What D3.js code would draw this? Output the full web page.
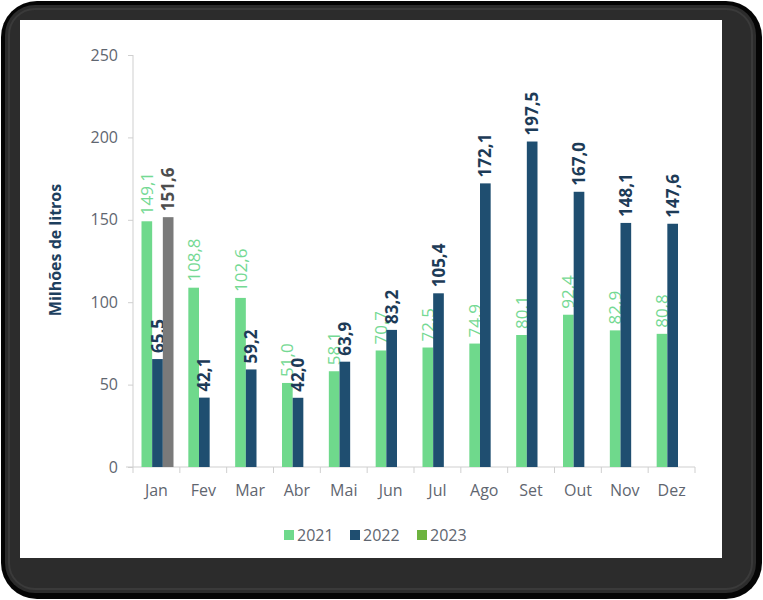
<!DOCTYPE html>
<html><head><meta charset="utf-8">
<script src="https://cdn.jsdelivr.net/npm/d3@7"></script>
<style>html,body{margin:0;padding:0;background:#fff;}svg{display:block;}</style>
</head><body>
<script>
const months = ["Jan","Fev","Mar","Abr","Mai","Jun","Jul","Ago","Set","Out","Nov","Dez"];
const years = ["2021","2022","2023"];
const values2021 = [149.1,108.8,102.6,51.0,58.1,70.7,72.5,74.9,80.1,92.4,82.9,80.8];
const values2022 = [65.5,42.1,59.2,42.0,63.9,83.2,105.4,172.1,197.5,167.0,148.1,147.6];
const values2023 = [151.6,null,null,null,null,null,null,null,null,null,null,null];
const yTicks = [0,50,100,150,200,250];
const yTitle = "Milhões de litros";

const W = 763, H = 600;
const svg = d3.select("body").append("svg").attr("width", W).attr("height", H);

// frame
svg.append("rect").attr("x",1).attr("y",1).attr("width",W-2).attr("height",H-2).attr("rx",36).attr("fill","#050505");
svg.append("rect").attr("x",5).attr("y",5).attr("width",W-12).attr("height",H-12).attr("rx",30).attr("fill","#2c2c2c");
svg.append("rect").attr("x",9).attr("y",9).attr("width",W-20).attr("height",H-20).attr("rx",26).attr("fill","none").attr("stroke","#3a3a3a").attr("stroke-width",2);
svg.append("rect").attr("x",20).attr("y",20).attr("width",702).attr("height",538).attr("fill","#ffffff");

const series = [
  {key:"2021", vals: values2021, color:"#6fd98c", label:"#74d993", weight:"500"},
  {key:"2022", vals: values2022, color:"#1f4e70", label:"#1d3b57", weight:"bold"},
  {key:"2023", vals: values2023, color:"#7a7a7a", label:"#4d4d4d", weight:"bold"}
];

const x0 = d3.scaleBand().domain(months).range([133, 695]).padding(0);
const x1 = d3.scaleBand().domain(years).range([8.5, 40.5]).padding(0);
const y = d3.scaleLinear().domain([0,250]).range([467, 55]);

const font = "'Open Sans', 'Noto Sans', sans-serif";

// y axis
const yAxis = svg.append("g").attr("transform","translate(133,0)")
  .call(d3.axisLeft(y).tickValues(yTicks).tickSize(5).tickPadding(10).tickFormat(d3.format("d")));
yAxis.select(".domain").attr("stroke","#cfcfcf").attr("d","M0,55V467");
yAxis.selectAll(".tick line").attr("stroke","#cfcfcf");
yAxis.selectAll("text").attr("fill","#5f6670").style("font-family",font).style("font-size","16px");

// x axis
const xAxis = svg.append("g").attr("transform","translate(0,467)")
  .call(d3.axisBottom(x0).tickSize(0).tickPadding(18));
xAxis.select(".domain").attr("stroke","#cfcfcf").attr("d","M126,0H695");
xAxis.selectAll("text").attr("fill","#5f6670").style("font-family",font).style("font-size","16px");
// boundary ticks
svg.append("g").selectAll("line").data(months.concat(["__end"])).join("line")
  .attr("x1",(d,i)=> i<months.length ? x0(d) : x0.range()[1])
  .attr("x2",(d,i)=> i<months.length ? x0(d) : x0.range()[1])
  .attr("y1",467).attr("y2",473).attr("stroke","#cfcfcf");

// bars
series.forEach(s => {
  const data = months.map((m,i)=>({m, v:s.vals[i]})).filter(d=>d.v!=null);
  svg.append("g").selectAll("rect").data(data).join("rect")
    .attr("x", d=>x0(d.m)+x1(s.key))
    .attr("width", x1.bandwidth())
    .attr("y", d=>y(d.v))
    .attr("height", d=>y(0)-y(d.v))
    .attr("fill", s.color);
  svg.append("g").selectAll("text").data(data).join("text")
    .attr("transform", d=>`translate(${x0(d.m)+x1(s.key)+x1.bandwidth()/2},${y(d.v)-6}) rotate(-90)`)
    .attr("dy","0.36em")
    .attr("text-anchor","start")
    .attr("fill", s.label)
    .style("font-family",font).style("font-size","17px").style("font-weight",s.weight)
    .text(d=>d3.format(".1f")(d.v).replace(".",","));
});

// y title
svg.append("text").attr("transform","translate(55,250) rotate(-90)")
  .attr("text-anchor","middle").attr("dy","0.35em")
  .attr("fill","#1d3f5e").style("font-family",font).style("font-size","16px").style("font-weight","bold")
  .text(yTitle);

// legend
const legendColors = ["#6fd98c","#1f4e70","#6db33f"];
const legendX = [284, 350, 417];
const lg = svg.append("g");
years.forEach((yr,i)=>{
  lg.append("rect").attr("x",legendX[i]).attr("y",530).attr("width",10).attr("height",10).attr("fill",legendColors[i]);
  lg.append("text").attr("x",legendX[i]+13).attr("y",535).attr("dy","0.35em")
    .attr("fill","#5f6670").style("font-family",font).style("font-size","16px").text(yr);
});
</script>
</body></html>
